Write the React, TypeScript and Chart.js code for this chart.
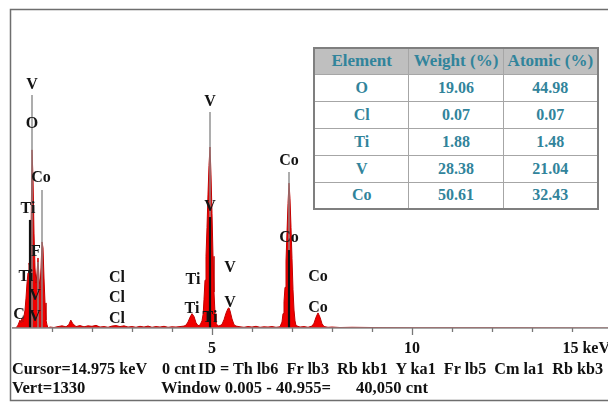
import React, { useEffect, useRef } from "react";
import { Chart, registerables } from "chart.js";
Chart.register(...registerables);

// Spectrum (keV, counts)
const energies = [
  0.0, 0.1, 0.15, 0.2, 0.225, 0.25, 0.275, 0.3, 0.325, 0.35, 0.375, 0.4, 0.425, 0.45, 0.475,
  0.5, 0.525, 0.55, 0.575, 0.6, 0.625, 0.65, 0.675, 0.7, 0.725, 0.75, 0.775, 0.8, 0.825, 0.85,
  0.875, 0.9, 0.95, 1.05, 1.15, 1.25, 1.35, 1.42, 1.47, 1.52, 1.6, 1.7, 1.8, 1.9, 2.0, 2.1,
  2.2, 2.3, 2.4, 2.5, 2.6, 2.7, 2.8, 2.9, 3.0, 3.1, 3.2, 3.3, 3.4, 3.5, 3.6, 3.7, 3.8, 3.9,
  4.0, 4.1, 4.2, 4.3, 4.35, 4.4, 4.45, 4.5, 4.55, 4.6, 4.65, 4.7, 4.75, 4.78, 4.8, 4.825,
  4.85, 4.875, 4.9, 4.925, 4.95, 4.975, 5.0, 5.025, 5.05, 5.075, 5.1, 5.15, 5.2, 5.25, 5.3,
  5.35, 5.4, 5.425, 5.45, 5.5, 5.55, 5.6, 5.7, 5.8, 5.9, 6.0, 6.1, 6.2, 6.3, 6.4, 6.5, 6.6,
  6.7, 6.75, 6.775, 6.8, 6.825, 6.85, 6.875, 6.9, 6.925, 6.95, 6.975, 7.0, 7.025, 7.05, 7.075,
  7.1, 7.2, 7.3, 7.4, 7.5, 7.55, 7.6, 7.65, 7.7, 7.75, 7.8, 7.9, 8.0, 8.2, 8.5, 9.0, 10.0,
  12.0, 14.9,
];
const counts = [
  0, 0, 12, 33, 21, 42, 25, 50, 75, 125, 188, 230, 272, 251, 376,
  745, 627, 397, 251, 188, 230, 293, 209, 167, 251, 360, 335, 209, 105, 33,
  13, 0, 4, 2, 6, 9, 5, 14, 33, 18, 6, 10, 5, 9, 7, 11,
  4, 6, 3, 8, 10, 6, 9, 4, 6, 3, 7, 4, 8, 3, 6, 4, 7, 3,
  5, 4, 6, 8, 12, 25, 45, 60, 48, 22, 10, 12, 30, 60, 120, 200,
  300, 420, 560, 680, 757, 640, 480, 300, 150, 60, 20, 8, 10, 15, 35,
  62, 82, 84, 72, 38, 14, 8, 5, 3, 6, 4, 7, 3, 5, 4, 6, 3,
  5, 25, 60, 110, 170, 280, 400, 520, 606, 540, 420, 290, 160, 75, 30,
  10, 4, 6, 3, 8, 20, 45, 63, 45, 18, 6, 3, 4, 2, 3, 2, 1,
  1, 0,
];

// Element labels
const labelTexts = ["V", "O", "Co", "Ti", "F", "Ti", "V", "C", "V", "Cl", "Cl", "Cl", "Ti", "Ti", "Ti", "V", "V", "V", "V", "Co", "Co", "Co", "Co"];
const labelEnergies = [0.5, 0.5, 0.725, 0.4, 0.6, 0.35, 0.575, 0.175, 0.575, 2.625, 2.625, 2.625, 4.525, 4.5, 4.95, 4.95, 4.95, 5.45, 5.45, 6.925, 6.925, 7.65, 7.65];
const labelCounts = [1016, 853, 627, 498, 318, 213, 134, 54, 46, 209, 125, 38, 201, 79, 42, 945, 506, 251, 105, 698, 376, 213, 84];

// Marker lines
const lineEnergies = [0.5, 0.75, 0.45, 0.65, 4.95, 4.95, 6.925, 6.925];
const lineTops = [974, 577, 452, 276, 903, 464, 652, 326];
const lineKinds = ["gray", "gray", "black", "gray", "gray", "black", "gray", "black"];

// Axis
const tickValues = [1, 2, 3, 4, 5, 6, 7, 8, 9, 10, 11, 12, 13, 14];
const majorTicks = [5, 10];
const axisLabelValues = [5, 10, 15];
const axisLabelTexts = ["5", "10", "15 keV"];

// Table
const tableHeader = ["Element", "Weight (%)", "Atomic (%)"];
const tableElements = ["O", "Cl", "Ti", "V", "Co"];
const tableWeight = ["19.06", "0.07", "1.88", "28.38", "50.61"];
const tableAtomic = ["44.98", "0.07", "1.48", "21.04", "32.43"];

const FONT = '"Liberation Serif", "Times New Roman", serif';

const overlayPlugin = {
  id: "edsOverlay",
  afterDatasetsDraw(chart: any) {
    const { ctx, chartArea, scales } = chart;
    const xs = scales.x;
    const ys = scales.y;
    const base = ys.getPixelForValue(0);
    ctx.save();
    // marker lines
    lineEnergies.forEach((e, i) => {
      const x = xs.getPixelForValue(e);
      ctx.beginPath();
      ctx.strokeStyle = lineKinds[i] === "black" ? "#111" : "#8a8a8a";
      ctx.lineWidth = lineKinds[i] === "black" ? 2.2 : 1.4;
      ctx.moveTo(x, ys.getPixelForValue(lineTops[i]));
      ctx.lineTo(x, base);
      ctx.stroke();
    });
    // baseline
    ctx.beginPath();
    ctx.strokeStyle = "#8a8a8a";
    ctx.lineWidth = 1.5;
    ctx.moveTo(chartArea.left, base);
    ctx.lineTo(chartArea.right, base);
    ctx.stroke();
    // ticks
    tickValues.forEach((t) => {
      const x = Math.round(xs.getPixelForValue(t)) + 0.5;
      ctx.beginPath();
      ctx.lineWidth = 1.3;
      ctx.strokeStyle = "#777";
      ctx.moveTo(x, base);
      ctx.lineTo(x, base + (majorTicks.includes(t) ? 7 : 4));
      ctx.stroke();
    });
    // axis labels
    ctx.fillStyle = "#111";
    ctx.font = `bold 16px ${FONT}`;
    ctx.textBaseline = "middle";
    axisLabelValues.forEach((v, i) => {
      const x = xs.getPixelForValue(v);
      if (i === axisLabelValues.length - 1) {
        ctx.textAlign = "right";
        ctx.fillText(axisLabelTexts[i], x - 2, base + 21);
      } else {
        ctx.textAlign = "center";
        ctx.fillText(axisLabelTexts[i], x, base + 21);
      }
    });
    // element labels
    ctx.font = `bold 16px ${FONT}`;
    ctx.textAlign = "center";
    ctx.textBaseline = "middle";
    ctx.fillStyle = "#141414";
    labelTexts.forEach((t, i) => {
      ctx.fillText(t, xs.getPixelForValue(labelEnergies[i]), ys.getPixelForValue(labelCounts[i]));
    });
    // frame
    ctx.beginPath();
    ctx.strokeStyle = "#6e6e6e";
    ctx.lineWidth = 1.5;
    ctx.moveTo(chart.width + 5, 9.5);
    ctx.lineTo(10.5, 9.5);
    ctx.lineTo(10.5, 400.5);
    ctx.lineTo(chart.width + 5, 400.5);
    ctx.stroke();
    ctx.restore();
  },
};

export default function App() {
  const ref = useRef<HTMLCanvasElement | null>(null);
  useEffect(() => {
    if (!ref.current) return;
    const chart = new Chart(ref.current, {
      type: "line",
      data: {
        datasets: [
          {
            data: energies.map((e, i) => ({ x: e, y: counts[i] })),
            borderColor: "#c00000",
            backgroundColor: "#f00000",
            borderWidth: 1,
            pointRadius: 0,
            fill: "origin",
            tension: 0,
          },
        ],
      },
      options: {
        animation: false,
        responsive: false,
        layout: { padding: { left: 12, top: 10, right: 0, bottom: 75 } },
        plugins: { legend: { display: false }, tooltip: { enabled: false } },
        scales: {
          x: { type: "linear", min: 0, max: 14.9, display: false },
          y: { type: "linear", min: 0, max: 1330, display: false },
        },
      },
      plugins: [overlayPlugin],
    });
    return () => chart.destroy();
  }, []);

  const cell: React.CSSProperties = {
    border: "1px solid #a6a6a6",
    padding: 0,
    textAlign: "center",
  };

  return (
    <div style={{ position: "fixed", left: 0, top: 0, width: 608, height: 403, overflow: "hidden", background: "#fff" }}>
      <canvas ref={ref} width={608} height={403} style={{ position: "absolute", left: 0, top: 0 }} />
      <table
        style={{
          position: "absolute",
          left: 313,
          top: 47,
          width: 286,
          height: 163,
          borderCollapse: "collapse",
          fontFamily: FONT,
          fontWeight: "bold",
          fontSize: 16,
          color: "#31849b",
          background: "#fff",
          border: "2px solid #7f7f7f",
        }}
      >
        <tbody>
          <tr style={{ height: 26, background: "#bfbfbf", fontSize: 17 }}>
            {tableHeader.map((h) => (
              <td key={h} style={{ ...cell, width: 94 }}>{h}</td>
            ))}
          </tr>
          {tableElements.map((el, i) => (
            <tr key={el} style={{ height: 27 }}>
              <td style={cell}>{el}</td>
              <td style={cell}>{tableWeight[i]}</td>
              <td style={cell}>{tableAtomic[i]}</td>
            </tr>
          ))}
        </tbody>
      </table>
      <div style={{ position: "absolute", left: 0, top: 359, width: 608, fontFamily: FONT, fontWeight: "bold", color: "#111", whiteSpace: "pre", lineHeight: "20px" }}>
        <span style={{ position: "absolute", left: 12, top: 0, fontSize: 16.2 }}>Cursor=14.975 keV</span>
        <span style={{ position: "absolute", left: 162, top: 0, fontSize: 16.2 }}>0 cnt</span>
        <span style={{ position: "absolute", left: 198, top: 0, fontSize: 16.2 }}>{"ID = Th lb6  Fr lb3  Rb kb1  Y ka1  Fr lb5  Cm la1  Rb kb3"}</span>
        <span style={{ position: "absolute", left: 12, top: 19, fontSize: 16.6 }}>Vert=1330</span>
        <span style={{ position: "absolute", left: 161, top: 19, fontSize: 16.6 }}>Window 0.005 - 40.955=</span>
        <span style={{ position: "absolute", left: 356, top: 19, fontSize: 16.6 }}>40,050 cnt</span>
      </div>
    </div>
  );
}
